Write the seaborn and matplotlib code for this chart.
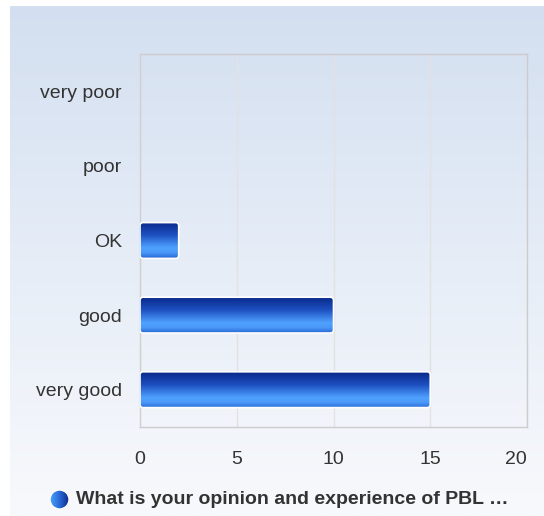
import numpy as np
import matplotlib
matplotlib.use("Agg")
import matplotlib.pyplot as plt
import seaborn as sns
from matplotlib.colors import LinearSegmentedColormap
from matplotlib.patches import FancyBboxPatch, Circle

categories = ["very poor", "poor", "OK", "good", "very good"]
counts = [0, 0, 2, 10, 15]
x_ticks = [0, 5, 10, 15, 20]
series_name = "What is your opinion and experience of PBL \u2026"

sns.set_theme(style="white")
plt.rcParams["font.family"] = ["Liberation Sans", "DejaVu Sans"]

W, H = 544, 516
fig = plt.figure(figsize=(W / 100, H / 100), dpi=100)
fig.patch.set_facecolor("white")

# panel background gradient
bg = fig.add_axes([10 / W, 0, 534 / W, 510 / H], zorder=-5)
bg_cmap = LinearSegmentedColormap.from_list("bg", ["#d3dff0", "#e6edf7", "#f8f9fc"])
bg.imshow(np.linspace(0, 1, 256).reshape(-1, 1), cmap=bg_cmap, aspect="auto",
          extent=(0, 1, 0, 1), origin="upper")
bg.set_axis_off()

ax = fig.add_axes([140 / W, 1 - 427 / H, 387 / W, 373 / H])
ax.set_facecolor("none")

sns.barplot(x=counts, y=categories, orient="h", width=0.48, color="#3a80e8",
            ax=ax, zorder=3)

ax.set_xlim(0, 20)
ylim = ax.get_ylim()

bar_cmap = LinearSegmentedColormap.from_list(
    "bar", [(0, "#08298a"), (0.35, "#1e4fc0"), (0.72, "#4fa2ff"), (0.85, "#4a98f8"), (1, "#2a68d4")])
grad = np.linspace(0, 1, 128).reshape(-1, 1)
for p in list(ax.patches):
    w = p.get_width()
    if w <= 0:
        p.set_visible(False)
        continue
    x0, y0, h = p.get_x(), p.get_y(), p.get_height()
    p.set_visible(False)
    clip = FancyBboxPatch((x0, y0), w, h, boxstyle="round,pad=0,rounding_size=0.15",
                          mutation_aspect=0.26, transform=ax.transData,
                          facecolor="none", edgecolor="white", linewidth=1.2, zorder=5)
    ax.add_patch(clip)
    im = ax.imshow(grad, cmap=bar_cmap, aspect="auto", origin="upper",
                   extent=(x0, x0 + w, y0 + h, y0), zorder=4)
    im.set_clip_path(clip)

ax.set_xlim(0, 20)
ax.set_ylim(ylim)
ax.set_xticks(x_ticks)
ax.set_xticklabels([str(t) for t in x_ticks])
ax.get_xticklabels()[-1].set_horizontalalignment("right")
ax.xaxis.tick_bottom()
ax.grid(axis="x", color="#e2e2e2", linewidth=1, zorder=0)
ax.grid(axis="y", visible=False)
for side, sp in ax.spines.items():
    sp.set_visible(True)
    sp.set_color("#cccccc")
    sp.set_linewidth(1)
ax.spines["left"].set_color("#d0d0d0")
ax.tick_params(axis="both", length=0, labelsize=14, colors="#333333")
ax.tick_params(axis="y", pad=13)
ax.tick_params(axis="x", pad=17)
for lbl in ax.get_yticklabels():
    lbl.set_verticalalignment("center_baseline")
ax.set_xlabel("")
ax.set_ylabel("")

# legend marker + text
lg = fig.add_axes([50 / W, 1 - 509 / H, 19 / W, 19 / H])
leg_cmap = LinearSegmentedColormap.from_list("leg", ["#4aa0ff", "#2a6ad6", "#0a2a8c"])
lim = lg.imshow(np.linspace(0, 1, 64).reshape(1, -1), cmap=leg_cmap, aspect="auto",
                extent=(0, 1, 0, 1))
circ = Circle((0.5, 0.5), 0.5, transform=lg.transAxes, facecolor="none")
lg.add_patch(circ)
lim.set_clip_path(circ)
lg.set_axis_off()
fig.text(76 / W, 1 - 500 / H, series_name, fontsize=14, fontweight="bold",
         color="#333333", va="center", ha="left")

fig.savefig("out.png", dpi=100)
